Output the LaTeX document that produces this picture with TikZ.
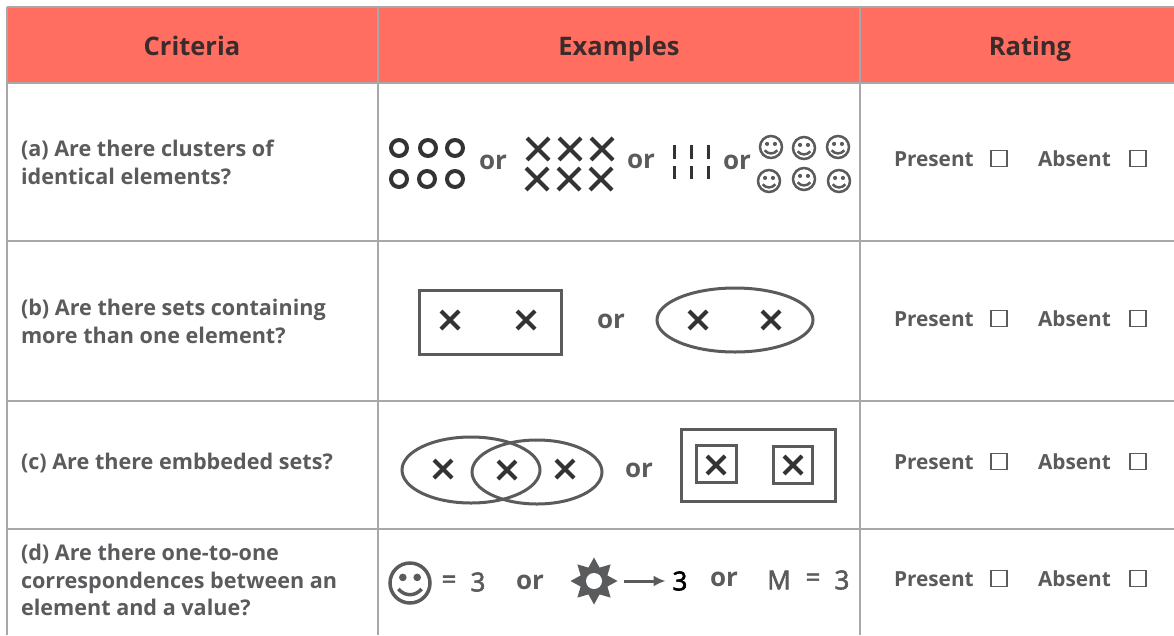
\documentclass[tikz,border=0pt]{standalone}
\usepackage{fontspec}
\usetikzlibrary{arrows.meta}
\setmainfont{Open Sans}
\newfontfamily\medfont[FakeBold=2.4]{Open Sans}
\definecolor{headfill}{HTML}{FF6E61}
\definecolor{rule}{HTML}{A8A8A8}
\definecolor{ink}{HTML}{5A5B5D}
\definecolor{dark}{HTML}{333333}
\definecolor{headink}{HTML}{3B2B2B}
\newcommand{\xmk}[3]{\draw[dark,line width=4pt] (#1-#3,#2-#3) -- (#1+#3,#2+#3) (#1-#3,#2+#3) -- (#1+#3,#2-#3);}
\newcommand{\oring}[2]{\draw[dark,line width=4pt] (#1,#2) circle (8);}
\newcommand{\barmk}[3]{\draw[dark,line width=3pt] (#1,#2) -- (#1,#3);}
\newcommand{\smiley}[4]{%
  \draw[ink,line width=#4pt] (#1,#2) circle (#3);
  \fill[ink] (#1-0.36*#3,#2-0.28*#3) circle (0.19*#3) (#1+0.36*#3,#2-0.28*#3) circle (0.19*#3);
  \draw[ink,line width=#4pt] (#1-0.58*#3,#2+0.3*#3) .. controls (#1-0.25*#3,#2+0.68*#3) and (#1+0.25*#3,#2+0.68*#3) .. (#1+0.58*#3,#2+0.3*#3);}
\newcommand{\ratingrow}[2]{%
  \node[rate,anchor=base west] (pres#1) at (894,#2+7) {Present};
  \node[tick] (pbox#1) at (999,#2-0.5) {};
  \node[rate,anchor=base west] (abs#1) at (1038,#2+7) {Absent};
  \node[tick] (abox#1) at (1138,#2-0.5) {};}
\tikzset{
  x=1pt,y=-1pt,
  inner sep=0pt,outer sep=0pt,
  head/.style={font=\fontsize{25.5}{30}\selectfont\bfseries,text=headink,anchor=base},
  crit/.style={font=\fontsize{21.6}{25}\selectfont\bfseries,text=ink,anchor=base west},
  rate/.style={font=\fontsize{20.8}{24}\selectfont\bfseries,text=ink},
  orw/.style={font=\fontsize{26}{30}\selectfont\bfseries,text=ink},
  num/.style={font=\fontsize{26}{30}\selectfont\medfont,text=ink},
  tick/.style={draw=ink,line width=1.4pt,minimum size=16pt},
  tline/.style={rule,line width=2pt},
  shp/.style={ink,line width=3pt}
}
\begin{document}
\begin{tikzpicture}
\useasboundingbox (0,0) rectangle (1174,635);
\clip (0,0) rectangle (1174,635);
\fill[headfill] (7,7) rectangle (1174,83);
\draw[tline] (7,7) -- (1174,7);
\draw[tline] (7,83) -- (1174,83);
\draw[tline] (7,241) -- (1174,241);
\draw[tline] (7,401) -- (1174,401);
\draw[tline] (7,529) -- (1174,529);
\draw[tline] (7,7) -- (7,635);
\draw[tline] (378,7) -- (378,635);
\draw[tline] (860,7) -- (860,635);

\node[head] (h1) at (192,55) {Criteria};
\node[head] (h2) at (619,55) {Examples};
\node[head] (h3) at (1030,55) {Rating};

\node[crit] (a1) at (21,156) {(a) Are there clusters of};
\node[crit] (a2) at (21,184) {identical elements?};
\node[crit] (b1) at (21,315) {(b) Are there sets containing};
\node[crit] (b2) at (21,343) {more than one element?};
\node[crit] (c1) at (21,469) {(c) Are there embbeded sets?};
\node[crit] (d1) at (21,560) {(d) Are there one-to-one};
\node[crit] (d2) at (21,588) {correspondences between an};
\node[crit] (d3) at (21,615) {element and a value?};

\ratingrow{a}{159}
\ratingrow{b}{319}
\ratingrow{c}{462}
\ratingrow{d}{579}

% row a
\oring{399}{148}\oring{428}{148}\oring{455}{148}
\oring{399}{179}\oring{427}{179}\oring{455}{179}
\node[orw] (ora1) at (493,162) {or};
\xmk{538}{149}{11}\xmk{570}{149}{11}\xmk{602}{149}{11}
\xmk{537}{179}{11}\xmk{569}{179}{11}\xmk{601}{179}{11}
\node[orw] (ora2) at (641,161) {or};
\barmk{674}{145}{159}\barmk{691}{145}{159}\barmk{708}{145}{159}
\barmk{674}{166}{179}\barmk{691}{166}{179}\barmk{708}{166}{179}
\node[orw] (ora3) at (737,162) {or};
\smiley{771}{147}{11}{2.5}\smiley{804}{148}{11}{2.5}\smiley{838}{147}{11}{2.5}
\smiley{769}{181}{11}{2.5}\smiley{804}{179}{11}{2.5}\smiley{839}{181}{11}{2.5}

% row b
\draw[shp] (419,290) rectangle (561,354);
\xmk{450}{320}{9}\xmk{526}{320}{9}
\node[orw] (orb) at (611,321) {or};
\draw[shp] (735,320) ellipse (78 and 32);
\xmk{698}{320}{9}\xmk{771}{320}{9}

% row c
\draw[shp] (471,470) ellipse (69 and 33);
\draw[shp] (537,472) ellipse (65 and 32);
\xmk{443}{469}{9}\xmk{507}{470}{9}\xmk{565}{469}{9}
\node[orw] (orc) at (639,470) {or};
\draw[shp] (681,429) rectangle (835,501);
\draw[shp] (696,445) rectangle (736,482);
\draw[shp] (773,446) rectangle (812,483);
\xmk{716}{465}{9}\xmk{793}{465}{9}

% row d
\smiley{410}{583}{20}{3.5}
\node[num] (eq1) at (449,582) {=};
\node[num] (n1) at (478,582) {3};
\node[orw] (ord1) at (530,582) {or};
\fill[ink] (594,581) +(0:23.5) \foreach \a in {0,45,...,315}{ -- +(\a:23.5) -- +(\a+22.5:14.5)} -- cycle;
\fill[white] (594,581) circle (8);
\node[minimum size=60pt] (sun) at (594,581) {};
\node[num,text=black] (n2) at (680,581) {3};
\draw[ink,line width=3pt,shorten >=7pt,-{Latex[length=12pt,width=11pt]}] (sun.east) -- (n2.west);
\node[orw] (ord2) at (724,579) {or};
\node[num] (mm) at (779,580) {M};
\node[num] (eq2) at (813,580) {=};
\node[num] (n3) at (842,580) {3};
\end{tikzpicture}
\end{document}
